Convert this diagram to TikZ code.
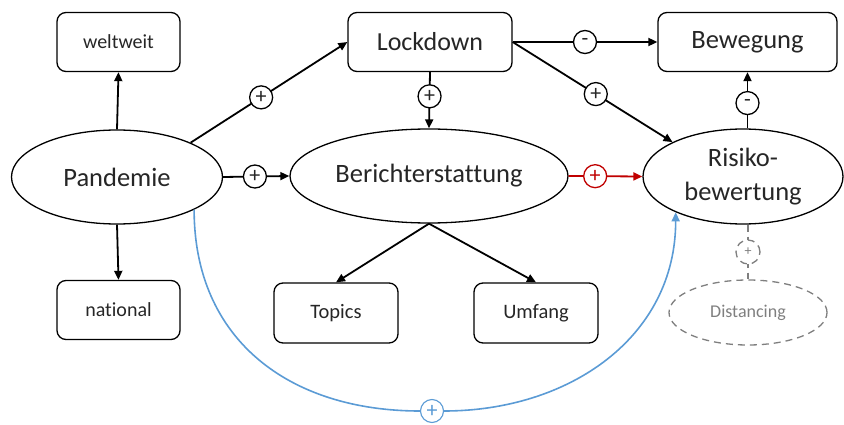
\documentclass[tikz,border=0pt]{standalone}
\usepackage{fontspec}
\setmainfont{Carlito}[Ligatures=NoCommon]
\usetikzlibrary{arrows.meta,shapes.geometric}
\definecolor{txt}{RGB}{38,38,38}
\definecolor{linkblue}{RGB}{91,155,213}
\definecolor{linkred}{RGB}{192,0,0}
\definecolor{soft}{RGB}{127,127,127}
\newcommand{\fsz}[1]{\fontsize{#1}{1.25\dimexpr#1pt\relax}\selectfont}

\begin{document}
\begin{tikzpicture}[x=1pt,y=-1pt,
  box/.style={draw,rounded corners=9pt,line width=1.3pt,minimum width=123pt,
    minimum height=59pt,inner sep=0pt,text=txt},
  oval/.style={draw,ellipse,line width=1.3pt,inner sep=0pt,text=txt},
  tip/.style={-{Triangle[length=9pt,width=8pt]}},
  conn/.style={draw,line width=1.8pt,tip},
  sign/.style={draw,circle,fill=white,line width=1.3pt,minimum size=23pt,
    inner sep=0pt,text=txt,font=\fsz{22}},
  softline/.style={draw=soft,line width=1.3pt,dash pattern=on 7pt off 5pt},
]
\useasboundingbox (0,0) rectangle (844,425);

% boxes
\node[box,font=\fsz{20}] (welt) at (118.5,42) {weltweit};
\node[box,font=\fsz{20}] (nat) at (118.5,310) {national};
\node[box,minimum width=164pt,font=\fsz{26}] (lock) at (430,42) {Lockdown};
\node[box,minimum width=179pt,font=\fsz{26.5}] (bew) at (747.5,42) {Bewegung};
\node[box,minimum width=124pt,minimum height=60pt,font=\fsz{20.5}] (top) at (336,313) {Topics};
\node[box,minimum width=124pt,minimum height=60pt,font=\fsz{20.5}] (umf) at (536,313) {Umfang};

% ellipses
\node[oval,minimum width=211pt,minimum height=94pt,font=\fsz{26.5}] (pand) at (117,177) {Pandemie};
\node[oval,minimum width=278pt,minimum height=94pt,font=\fsz{26.5}] (ber) at (429,176) {Berichterstattung};
\node[oval,minimum width=200pt,minimum height=95pt,align=center,
  font=\fontsize{26.5}{34}\selectfont] (risk) at (743,176.5) {Risiko-\\bewertung};
\node[oval,softline,text=soft,minimum width=158pt,minimum height=65pt,font=\fsz{18}]
  (dist) at (748,312.5) {Distancing};

% plain arrows
\draw[conn] (pand.north) -- (welt.south);
\draw[conn] (pand.south) -- (nat.north);
\draw[conn] (ber.south) -- (top.north);
\draw[conn] (ber.south) -- (umf.north);

% signed arrows
\draw[conn] (pand.25) -- node[sign,pos=0.45] (s1) {+} (lock.west);
\draw[conn] (pand.east) -- node[sign,pos=0.48] (s2) {+} (ber.west);
\draw[conn] (lock.south) -- node[sign,pos=0.43] (s3) {+} (ber.north);
\draw[conn] (lock.east) -- node[sign,pos=0.5] (s4) {-} (bew.west);
\draw[conn] (lock.east) -- node[sign,pos=0.52] (s5) {+} (risk.154);
\draw[conn,draw=linkred,color=linkred] (ber.east) --
  node[sign,draw=linkred,text=linkred,pos=0.36] (s6) {+} (risk.west);
\draw[conn] (bew.south |- risk.north) -- node[sign,pos=0.45] (s7) {-} (bew.south);

% tentative link to distancing
\draw[softline] (dist.north |- risk.south) --
  node[sign,softline,text=soft,minimum size=24pt,font=\fsz{14}] (s8) {+} (dist.north);

% long link from Pandemie to Risikobewertung
\node[sign,draw=linkblue,text=linkblue,line width=1.1pt] (s9) at (432,411) {+};
\draw[linkblue,line width=1.6pt] (pand.-23) to[out=-90,in=180,looseness=1.1] (s9.west);
\draw[linkblue,line width=1.6pt,tip] (s9.east) to[out=0,in=-90,looseness=1.05] (risk.208);
\end{tikzpicture}
\end{document}
